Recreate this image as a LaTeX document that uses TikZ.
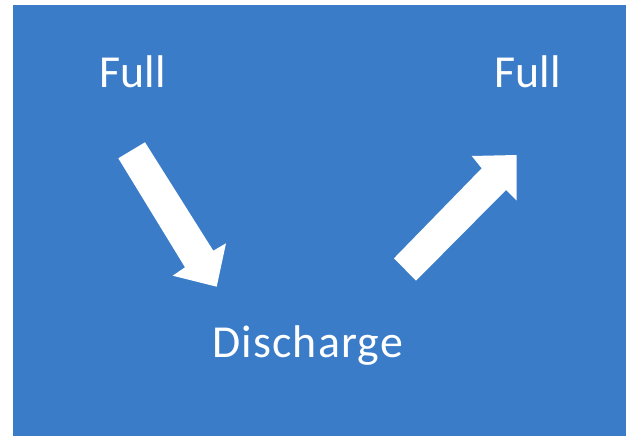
\documentclass[tikz,border=0pt]{standalone}
\usepackage{fontspec}
\setmainfont{Carlito}
\newfontfamily\widefont[LetterSpace=2.6]{Carlito}
\definecolor{bgblue}{RGB}{58,124,200}
\begin{document}
\begin{tikzpicture}[x=1bp,y=-1bp,
  lbl/.style={text=white,font=\fontsize{46}{50}\selectfont,inner sep=0pt,anchor=base west},
  bigarrow/.style={fill=white,draw=none}]
\useasboundingbox (0,0) rectangle (626,436);
\fill[bgblue] (13,5) rectangle (626,436);
\node[lbl] (full1) at (99.5,87.7) {Full};
\node[lbl] (full2) at (494.5,87.7) {Full};
\node[lbl,font=\widefont\fontsize{46}{50}\selectfont] (dis) at (212,357) {Discharge};
\fill[bigarrow] (118.3,158.3) -- (145,142.3) -- (213.3,250.7) -- (226,243.3) -- (216.7,286.7) -- (172.7,275.7) -- (185,267.3) -- cycle;
\fill[bigarrow] (394,258.3) -- (481.7,168.3) -- (471.7,156) -- (516.7,155) -- (516.7,200.7) -- (506,190) -- (416,280.7) -- cycle;
\end{tikzpicture}
\end{document}
